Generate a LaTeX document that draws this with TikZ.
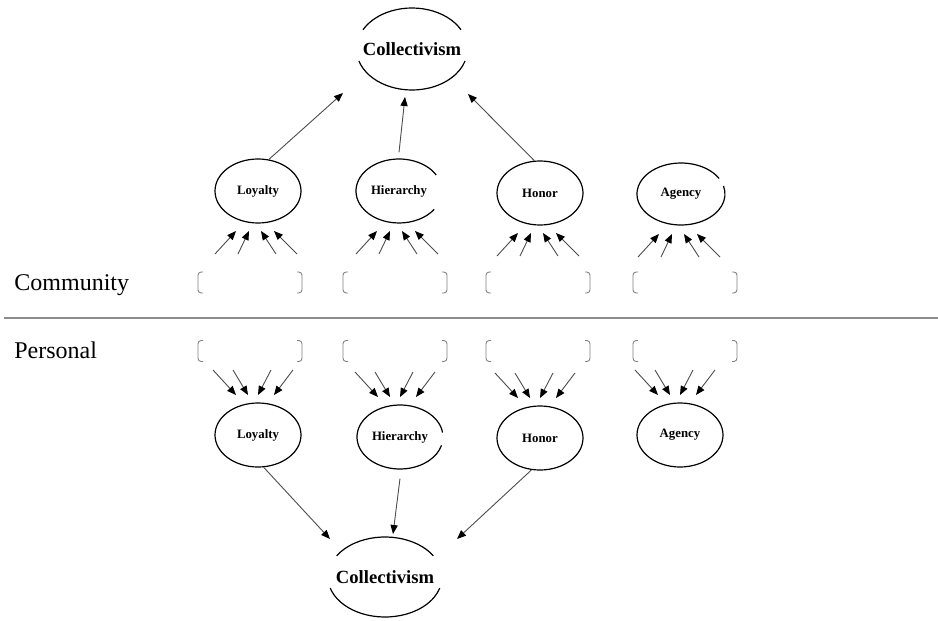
\documentclass[tikz,border=0pt]{standalone}
\usepackage{fontspec}
\setmainfont{Liberation Serif}
\usetikzlibrary{shapes.geometric,arrows.meta,calc}

\begin{document}
\begin{tikzpicture}[
  x=0.5pt, y=0.5pt,
  lat/.style={ellipse, minimum width=43pt, minimum height=32pt, inner sep=0pt,
              line width=0.6pt, font=\fontsize{6.4}{7.5}\selectfont\bfseries},
  latd/.style={lat, draw},
  coll/.style={ellipse, inner sep=0pt, font=\fontsize{9.3}{11}\selectfont\bfseries},
  ring/.style={line width=0.6pt},
  arr/.style={draw=black!70, line width=0.45pt,
              -{Triangle[length=4.5pt, width=3.6pt, color=black]}},
  side/.style={font=\fontsize{12}{14}\selectfont, anchor=base west, inner sep=0pt},
  bracket/.pic={\draw[black!50, line width=0.45pt, rounded corners=1.6pt]
              (-47,10.5) -- (-52,10.5) -- (-52,-10.5) -- (-47,-10.5)
              (47,10.5) -- (52,10.5) -- (52,-10.5) -- (47,-10.5);}]

  \useasboundingbox (0,0) rectangle (938,-621);

  % ---- collectivism, top and bottom ---------------------------------------
  \node[coll] (colT) at (412,-49) {Collectivism};
  \draw[ring] ($(colT.center)+(28:55.5 and 41)$) arc[start angle=28, end angle=152, x radius=55.5, y radius=41];
  \draw[ring] ($(colT.center)+(197:55.5 and 41)$) arc[start angle=197, end angle=343, x radius=55.5, y radius=41];

  \node[coll] (colB) at (385,-577) {Collectivism};
  \draw[ring] ($(colB.center)+(32:57 and 40)$) arc[start angle=32, end angle=148, x radius=57, y radius=40];
  \draw[ring] ($(colB.center)+(196:57 and 40)$) arc[start angle=196, end angle=344, x radius=57, y radius=40];

  % ---- community row ------------------------------------------------------
  \node[latd] (loyT) at (258,-191) {Loyalty};
  \node[lat]  (hieT) at (399,-191) {Hierarchy};
  \node[latd] (honT) at (540,-193) {Honor};
  \node[lat]  (ageT) at (681,-194) {Agency};
  \draw[ring] ($(hieT.center)+(30:43 and 32)$) arc[start angle=30, end angle=325, x radius=43, y radius=32];
  \draw[ring] ($(ageT.center)+(30:44 and 31)$) arc[start angle=30, end angle=375, x radius=44, y radius=31];

  \foreach \n in {loyT,hieT,honT,ageT} {
    \foreach \a/\b in {-43/-22, -20/-9, 18/3, 39/16} {
      \draw[arr] ($(\n.center)+(\a,-63)$) -- ($(\n.center)+(\b,-40)$);
    }
  }
  \foreach \x in {250,395,538,685} { \pic at (\x,-282.5) {bracket}; }

  \coordinate (inT1) at (343,-93);
  \coordinate (inT2) at (405,-97);
  \coordinate (inT3) at (468,-94);
  \draw[arr] (loyT.71) -- (inT1);
  \draw[arr] ([yshift=3pt]hieT.north) -- (inT2);
  \draw[arr] (honT.100) -- (inT3);

  \node[side] (comm) at (14,-290) {Community};
  \draw[black!45, line width=0.6pt] (4,-318) -- (938,-318);
  \node[side] (pers) at (14,-358) {Personal};

  % ---- personal row -------------------------------------------------------
  \foreach \x in {250,395,538,685} { \pic at (\x,-351) {bracket}; }

  \node[latd] (loyB) at (258,-435) {Loyalty};
  \node[lat]  (hieB) at (400,-437) {Hierarchy};
  \node[latd] (honB) at (540,-438) {Honor};
  \node[latd] (ageB) at (680,-435) {Agency};
  \draw[ring] ($(hieB.center)+(8:43 and 32)$) arc[start angle=8, end angle=345, x radius=43, y radius=32];

  \foreach \n in {loyB,hieB,honB,ageB} {
    \foreach \a/\b in {-45/-22, -25/-10, 13/0, 35/16} {
      \draw[arr] ($(\n.center)+(\a,65)$) -- ($(\n.center)+(\b,40)$);
    }
  }

  \coordinate (inB1) at (330,-539);
  \coordinate (inB2) at (393,-534);
  \coordinate (inB3) at (457,-539);
  \draw[arr] (loyB.-80) -- (inB1);
  \draw[arr] ([yshift=-4.5pt]hieB.south) -- (inB2);
  \draw[arr] (honB.-105) -- (inB3);
\end{tikzpicture}
\end{document}
